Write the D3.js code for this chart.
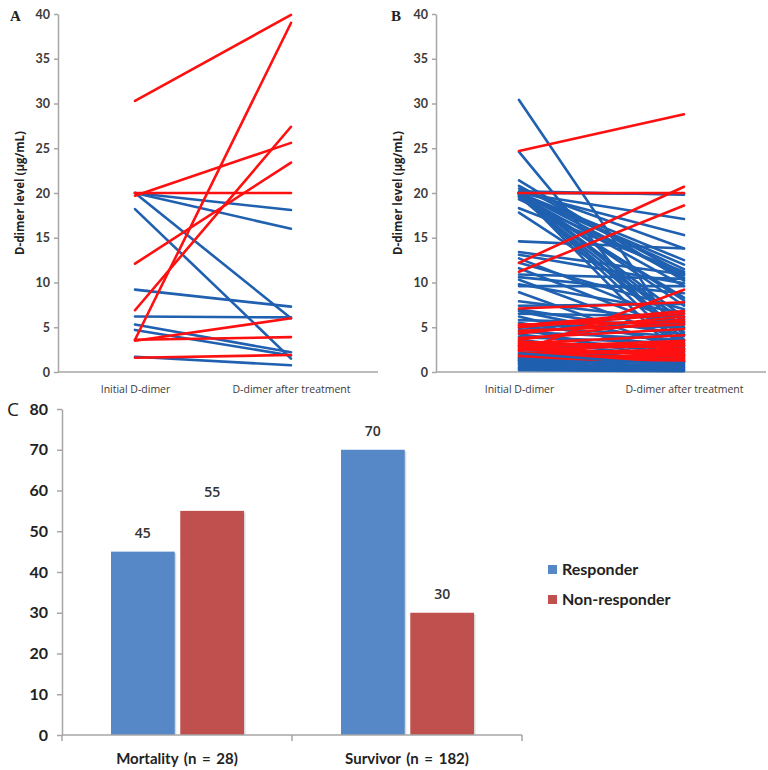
<!DOCTYPE html>
<html>
<head>
<meta charset="utf-8">
<script src="https://cdn.jsdelivr.net/npm/d3@7"></script>
<style>
  html, body { margin: 0; padding: 0; background: #fff; }
  svg { display: block; }
</style>
</head>
<body>
<svg id="chart" width="768" height="770"></svg>
<script>
// ---------------- DATA ----------------
const timepoints = ["Initial D-dimer", "D-dimer after treatment"];
const yTicksAB = [0, 5, 10, 15, 20, 25, 30, 35, 40];

// Panel A: [initial, after]
const aResponder = [
  [20.0, 18.1], [20.0, 16.0], [18.2, 1.5], [20.0, 6.0], [9.2, 7.3],
  [6.2, 6.1], [5.3, 2.2], [4.7, 1.85], [1.7, 0.75]
];
const aNonResponder = [
  [30.3, 39.9], [3.6, 39.0], [6.9, 27.4], [19.7, 25.6], [12.1, 23.4],
  [20.0, 20.0], [3.5, 6.0], [3.6, 3.9], [1.6, 1.9]
];

// Panel B: [initial, after]
const bResponder = [
  [30.4, 3.2], [24.6, 2.4], [21.4, 10.2], [20.8, 11.0], [20.5, 13.8],
  [20.2, 19.8], [20.0, 19.9], [20.0, 17.1], [20.0, 12.5], [20.0, 11.5],
  [20.0, 10.5], [20.0, 7.4], [20.0, 6.1], [20.0, 3.6], [20.0, 2.6],
  [19.8, 9.6], [19.8, 12.0], [19.7, 5.0], [19.5, 8.3], [19.6, 4.2],
  [20.0, 5.5], [20.0, 1.2], [19.9, 8.0], [20.1, 15.3], [19.3, 10.8],
  [18.3, 11.2], [17.8, 5.8], [14.6, 13.8], [13.4, 10.9], [13.1, 9.9],
  [12.7, 5.4], [12.2, 7.0], [11.6, 4.5], [10.9, 10.4], [10.6, 8.8],
  [10.3, 3.5], [9.8, 6.6], [9.6, 9.6], [8.9, 2.3], [7.9, 5.6],
  [7.4, 7.6], [7.0, 4.2], [6.8, 3.0], [6.5, 6.2], [6.2, 1.8],
  [5.8, 5.3], [5.5, 2.6], [5.2, 5.0], [5.0, 4.0], [4.8, 1.2],
  [4.5, 3.6], [4.2, 2.0], [3.9, 3.2], [3.6, 1.5], [3.3, 0.9],
  [3.0, 2.8], [2.7, 1.1], [2.4, 2.2], [1.8, 1.6], [0.9, 1.9]
];
const bNonResponder = [
  [24.7, 28.8], [20.0, 20.0], [12.2, 20.7], [11.2, 18.6], [7.1, 7.8],
  [2.3, 9.2], [5.2, 6.8], [5.0, 6.5], [4.3, 6.2], [3.6, 5.9],
  [3.8, 4.8], [3.2, 4.1], [2.8, 3.5], [2.6, 2.9], [2.4, 3.3],
  [2.1, 2.5], [1.9, 2.3], [1.7, 1.8], [1.5, 2.0], [1.3, 1.5],
  [1.1, 1.3], [2.9, 1.7], [3.4, 2.6], [4.6, 5.3], [5.3, 5.6],
  [2.0, 1.4], [1.6, 1.1], [2.5, 2.0], [3.0, 3.0], [1.4, 1.2]
];
// low responder lines drawn over the red ones
const bResponderLow = [
  [2.1, 0.7], [1.5, 0.5], [1.2, 1.0], [1.0, 0.4], [0.8, 0.8],
  [0.6, 0.3], [0.4, 0.5], [0.3, 0.2], [0.2, 0.1], [0.5, 0.6],
  [1.3, 0.2]
];

// Panel C
const groups = ["Mortality (n = 28)", "Survivor (n = 182)"];
const seriesNames = ["Responder", "Non-responder"];
const responderPct = [45, 70];
const nonResponderPct = [55, 30];
const yTicksC = [0, 10, 20, 30, 40, 50, 60, 70, 80];

// ---------------- STYLE ----------------
const RED_LINE = "#ff1010";
const BLUE_LINE = "#1f60b0";
const BAR_BLUE = "#5688c7";
const BAR_RED = "#c0504d";
const AXIS_GRAY = "#a6a6a6";
const TEXT = "#3a3a3a";

const svg = d3.select("#chart");

function slopePanel(opts) {
  const g = svg.append("g");
  const y = d3.scaleLinear().domain([0, 40]).range([372, 14]);
  const x = d3.scalePoint().domain(timepoints).range([opts.x0, opts.x1]);

  const ya = g.append("g")
    .attr("transform", `translate(${opts.axisX},0)`)
    .call(d3.axisLeft(y).tickValues(yTicksAB).tickSize(4).tickSizeOuter(0).tickPadding(4));
  ya.select(".domain").attr("stroke", AXIS_GRAY).attr("stroke-width", 1.5);
  ya.selectAll(".tick line").attr("stroke", AXIS_GRAY).attr("stroke-width", 1.5);
  ya.selectAll(".tick text")
    .attr("fill", TEXT).attr("font-family", "Lato, 'Open Sans', sans-serif")
    .attr("font-weight", "bold").attr("font-size", 12.5);

  g.append("line")
    .attr("x1", opts.axisX).attr("x2", opts.axisEnd)
    .attr("y1", y(0)).attr("y2", y(0))
    .attr("stroke", AXIS_GRAY).attr("stroke-width", 1.5);
  const xa = g.append("g")
    .attr("transform", `translate(0,${y(0)})`)
    .call(d3.axisBottom(x).tickSize(0).tickPadding(14));
  xa.select(".domain").remove();
  xa.selectAll(".tick text")
    .attr("fill", TEXT).attr("font-family", "'Open Sans', sans-serif")
    .attr("font-size", 10.5);

  g.append("text")
    .attr("transform", `translate(${opts.axisX - 34},${(y(0) + y(40)) / 2}) rotate(-90)`)
    .attr("text-anchor", "middle")
    .attr("font-family", "'Open Sans', sans-serif")
    .attr("font-weight", "bold").attr("font-size", 11.5).attr("fill", "#222")
    .text("D-dimer level (μg/mL)");

  g.append("text")
    .attr("x", opts.letterX).attr("y", 21)
    .attr("font-family", "'Liberation Serif', 'DejaVu Serif', serif")
    .attr("font-weight", "bold").attr("font-size", 15).attr("fill", "#222")
    .text(opts.letter);

  const line = d3.line().x((d, i) => x(timepoints[i])).y(d => y(d));
  opts.layers.forEach(layer => {
    g.append("g").selectAll("path")
      .data(layer.data)
      .join("path")
      .attr("d", d => line(d))
      .attr("fill", "none")
      .attr("stroke", layer.color)
      .attr("stroke-width", 2.6)
      .attr("stroke-linecap", "round");
  });
}

slopePanel({
  letter: "A", letterX: 10, axisX: 58, axisEnd: 378, x0: 135, x1: 291,
  layers: [
    { data: aResponder, color: BLUE_LINE },
    { data: aNonResponder, color: RED_LINE }
  ]
});
slopePanel({
  letter: "B", letterX: 391, axisX: 436, axisEnd: 766, x0: 519, x1: 684,
  layers: [
    { data: bResponder, color: BLUE_LINE },
    { data: bNonResponder, color: RED_LINE },
    { data: bResponderLow, color: BLUE_LINE }
  ]
});

// ---------------- PANEL C ----------------
(function () {
  const g = svg.append("g");
  const y = d3.scaleLinear().domain([0, 80]).range([735, 409]);
  const x0 = d3.scaleBand().domain(groups).range([62, 522]);
  const x1 = d3.scaleBand().domain(seriesNames).range([49, 182]).paddingInner(0.08);
  const color = d3.scaleOrdinal().domain(seriesNames).range([BAR_BLUE, BAR_RED]);

  const rows = groups.map((gname, i) => ({
    group: gname,
    values: [
      { key: "Responder", value: responderPct[i] },
      { key: "Non-responder", value: nonResponderPct[i] }
    ]
  }));

  const ya = g.append("g")
    .attr("transform", "translate(62,0)")
    .call(d3.axisLeft(y).tickValues(yTicksC).tickSize(5).tickSizeOuter(0).tickPadding(9));
  ya.select(".domain").attr("stroke", AXIS_GRAY).attr("stroke-width", 1.5);
  ya.selectAll(".tick line").attr("stroke", AXIS_GRAY).attr("stroke-width", 1.5);
  ya.selectAll(".tick text")
    .attr("fill", "#222").attr("font-family", "Lato, 'Open Sans', sans-serif")
    .attr("font-weight", "bold").attr("font-size", 16);

  const grp = g.selectAll("g.grp").data(rows).join("g")
    .attr("class", "grp")
    .attr("transform", d => `translate(${x0(d.group)},0)`);
  grp.selectAll("rect.shadow").data(d => d.values).join("rect")
    .attr("class", "shadow")
    .attr("x", d => x1(d.key) + 1.5)
    .attr("y", d => y(d.value) + 1.5)
    .attr("width", x1.bandwidth())
    .attr("height", d => y(0) - y(d.value) - 1.5)
    .attr("fill", "#d9d9d9");
  grp.selectAll("rect.bar").data(d => d.values).join("rect")
    .attr("class", "bar")
    .attr("x", d => x1(d.key))
    .attr("y", d => y(d.value))
    .attr("width", x1.bandwidth())
    .attr("height", d => y(0) - y(d.value))
    .attr("fill", d => color(d.key));
  grp.selectAll("text.val").data(d => d.values).join("text")
    .attr("class", "val")
    .attr("x", d => x1(d.key) + x1.bandwidth() / 2)
    .attr("y", d => y(d.value) - 14)
    .attr("text-anchor", "middle")
    .attr("font-family", "'Open Sans', sans-serif")
    .attr("font-weight", 600).attr("font-size", 14).attr("fill", "#333")
    .text(d => d.value);

  const xa = g.append("g")
    .attr("transform", "translate(0,735)")
    .call(d3.axisBottom(x0).tickSize(0).tickPadding(18));
  xa.select(".domain").remove();
  g.append("line").attr("x1", 62).attr("x2", 522).attr("y1", 735).attr("y2", 735)
    .attr("stroke", AXIS_GRAY).attr("stroke-width", 1.5);
  [x0.range()[0], x0(groups[1]), x0.range()[1]].forEach(px => {
    g.append("line").attr("x1", px).attr("x2", px).attr("y1", 735).attr("y2", 741)
      .attr("stroke", AXIS_GRAY).attr("stroke-width", 1.5);
  });
  xa.selectAll(".tick text")
    .attr("fill", "#222").attr("font-family", "Lato, 'Open Sans', sans-serif")
    .attr("font-weight", "bold").attr("font-size", 15)
    .attr("word-spacing", 2);

  g.append("text").attr("x", 7).attr("y", 416)
    .attr("font-family", "'Open Sans', sans-serif")
    .attr("font-size", 19).attr("fill", "#222").text("C");

  const lg = g.append("g").attr("transform", "translate(548,565)");
  seriesNames.forEach((s, i) => {
    lg.append("rect").attr("x", 0).attr("y", i * 30).attr("width", 9).attr("height", 9)
      .attr("fill", color(s));
    lg.append("text").attr("x", 14).attr("y", i * 30 + 10)
      .attr("font-family", "Lato, 'Open Sans', sans-serif")
      .attr("font-weight", "bold").attr("font-size", 16).attr("fill", "#222")
      .text(s);
  });
})();
</script>
</body>
</html>
